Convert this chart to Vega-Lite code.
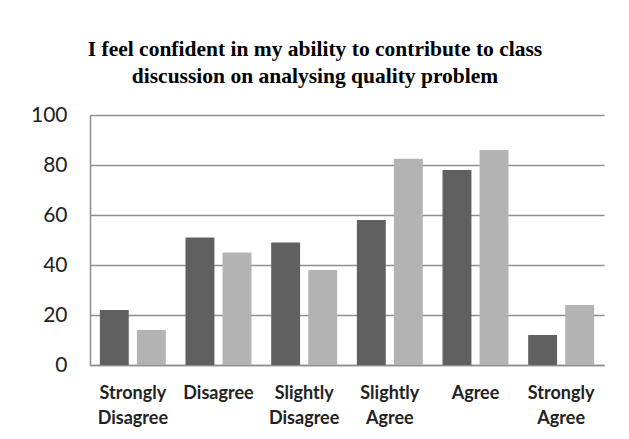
{
  "$schema": "https://vega.github.io/schema/vega-lite/v6.json",
  "autosize": {"type": "none"},
  "width": 514,
  "height": 250,
  "padding": {"left": 90, "top": 115, "right": 25, "bottom": 74},
  "background": "white",
  "title": {
    "text": ["I feel confident in my ability to contribute to class", "discussion on analysing quality problem"],
    "font": "Liberation Serif",
    "fontSize": 21.5,
    "fontWeight": "bold",
    "color": "#000000",
    "anchor": "middle",
    "frame": "group",
    "dx": -32,
    "offset": 17,
    "lineHeight": 27
  },
  "data": {
    "values": [
      {"category": "Strongly Disagree", "series": "Series 1", "value": 22},
      {"category": "Strongly Disagree", "series": "Series 2", "value": 14},
      {"category": "Disagree", "series": "Series 1", "value": 51},
      {"category": "Disagree", "series": "Series 2", "value": 45},
      {"category": "Slightly Disagree", "series": "Series 1", "value": 49},
      {"category": "Slightly Disagree", "series": "Series 2", "value": 38},
      {"category": "Slightly Agree", "series": "Series 1", "value": 58},
      {"category": "Slightly Agree", "series": "Series 2", "value": 82.5},
      {"category": "Agree", "series": "Series 1", "value": 78},
      {"category": "Agree", "series": "Series 2", "value": 86},
      {"category": "Strongly Agree", "series": "Series 1", "value": 12},
      {"category": "Strongly Agree", "series": "Series 2", "value": 24}
    ]
  },
  "mark": {"type": "bar"},
  "encoding": {
    "x": {
      "field": "category",
      "type": "nominal",
      "sort": null,
      "scale": {"paddingInner": 0.23, "paddingOuter": 0.115},
      "axis": {
        "title": null,
        "labelAngle": 0,
        "labelExpr": "split(datum.label, ' ')",
        "labelFont": "Lato",
        "labelFontSize": 18,
        "labelFontWeight": "bold",
        "labelColor": "#222222",
        "labelLineHeight": 25,
        "labelPadding": 19,
        "labelBaseline": "top",
        "ticks": false,
        "domainColor": "#8e8e8e",
        "domainWidth": 1.5,
        "grid": false
      }
    },
    "xOffset": {
      "field": "series",
      "type": "nominal",
      "scale": {"paddingInner": 0.22, "paddingOuter": 0}
    },
    "y": {
      "field": "value",
      "type": "quantitative",
      "scale": {"domain": [0, 100]},
      "axis": {
        "title": null,
        "values": [0, 20, 40, 60, 80, 100],
        "labelFont": "Lato",
        "labelFontSize": 21,
        "labelColor": "#222222",
        "labelPadding": 23,
        "ticks": false,
        "domainColor": "#8e8e8e",
        "domainWidth": 1.5,
        "gridColor": "#8e8e8e",
        "gridWidth": 1.5
      }
    },
    "color": {
      "field": "series",
      "type": "nominal",
      "scale": {"domain": ["Series 1", "Series 2"], "range": ["#606060", "#b3b3b3"]},
      "legend": null
    }
  },
  "config": {
    "view": {"stroke": null}
  }
}
